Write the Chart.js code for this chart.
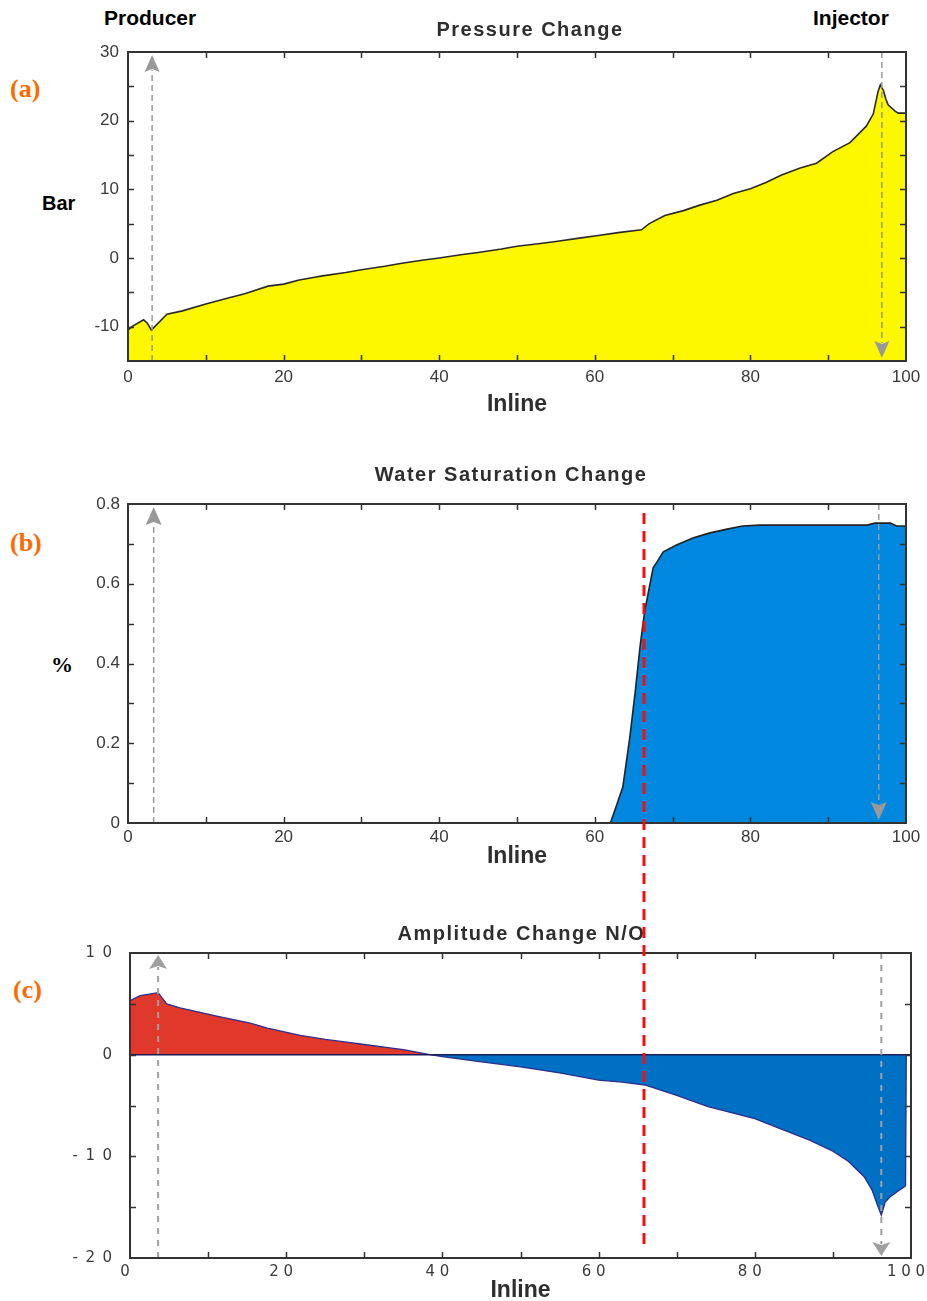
<!DOCTYPE html>
<html>
<head>
<meta charset="utf-8">
<script src="https://cdn.jsdelivr.net/npm/chart.js@4/dist/chart.umd.min.js"></script>
<style>
  html, body { margin: 0; padding: 0; background: #fff; }
  body { position: relative; width: 927px; height: 1301px; overflow: hidden; font-family: "Liberation Sans", Arial, sans-serif; }
  canvas.chart { position: absolute; left: 0; }
  #overlay { position: absolute; left: 0; top: 0; pointer-events: none; z-index: 5; }
  .lbl { position: absolute; white-space: nowrap; transform: translateY(-50%); line-height: 1; }
  .well { font: bold 21px "Liberation Sans", Arial, sans-serif; color: #000; }
  .panel { font: bold 26px "Liberation Serif", "Times New Roman", serif; color: #ff6a00; }
  .unit { font: bold 20px "Liberation Sans", Arial, sans-serif; color: #000; }
  .unit.pct { font: bold 22px "Liberation Serif", "Times New Roman", serif; }
</style>
</head>
<body>
<div class="lbl well" style="left:104px;top:18px">Producer</div>
<div class="lbl well" style="left:813px;top:18px">Injector</div>
<div class="lbl panel" style="left:10px;top:89px">(a)</div>
<div class="lbl panel" style="left:10px;top:543px">(b)</div>
<div class="lbl panel" style="left:13px;top:990px">(c)</div>
<div class="lbl unit" style="left:42px;top:203px">Bar</div>
<div class="lbl unit pct" style="left:51px;top:665px">%</div>

<canvas id="chartPressure" class="chart" style="top:0px" width="927" height="420"></canvas>
<canvas id="chartSaturation" class="chart" style="top:440px" width="927" height="432"></canvas>
<canvas id="chartAmplitude" class="chart" style="top:880px" width="927" height="426"></canvas>
<canvas id="overlay" width="927" height="1301"></canvas>

<script>
// ---- Pressure change along the inline (bar) ----
const pressureInline = [0, 0.5, 2, 2.5, 3, 5, 7, 10, 13, 15, 18, 20, 22, 24, 25, 28, 30, 33, 35, 38, 40, 43, 45, 48, 50, 53, 55, 58, 60, 63, 66, 67, 69, 71.4, 73.5, 75.7, 77.8, 80, 82, 84, 86.4, 88.5, 90.6, 92.8, 94.9, 95.8, 96.4, 96.7, 97.1, 97.4, 97.7, 98.6, 99, 100];
const pressureBar    = [-10.5, -10.0, -9.0, -9.5, -10.5, -8.2, -7.7, -6.7, -5.8, -5.2, -4.1, -3.8, -3.2, -2.8, -2.6, -2.1, -1.7, -1.2, -0.8, -0.3, 0.0, 0.5, 0.8, 1.3, 1.7, 2.1, 2.4, 2.9, 3.2, 3.7, 4.1, 5.0, 6.2, 6.9, 7.7, 8.4, 9.4, 10.1, 11.0, 12.1, 13.1, 13.8, 15.5, 16.8, 19.2, 21.0, 24.2, 25.2, 24.4, 23.2, 22.3, 21.4, 21.1, 21.1];

// ---- Water saturation change along the inline ----
const saturationInline = [0, 10, 20, 30, 40, 50, 60, 62, 62.6, 63.6, 64.5, 65.2, 65.8, 66.4, 66.9, 67.5, 68, 68.8, 70.5, 72.6, 74.7, 77, 79, 81.2, 85, 90, 95, 96, 97, 98, 98.8, 100];
const saturationValue  = [0, 0, 0, 0, 0, 0, 0, 0, 0.033, 0.09, 0.215, 0.33, 0.44, 0.53, 0.58, 0.64, 0.655, 0.68, 0.697, 0.715, 0.727, 0.737, 0.745, 0.747, 0.747, 0.747, 0.747, 0.752, 0.752, 0.752, 0.745, 0.745];

// ---- Amplitude change N/O along the inline ----
const amplitudeInline = [0, 1.3, 3.6, 4.7, 6.4, 11.1, 15.4, 17.6, 21.8, 25, 28, 30, 33, 35, 38.4, 40, 45, 50, 55, 60, 63, 66, 70, 74, 78, 80, 83, 87, 90, 92, 94, 95, 95.7, 96.2, 96.7, 97.3, 98, 99.3, 99.4];
const amplitudeValue  = [5.3, 5.8, 6.1, 5.0, 4.6, 3.8, 3.1, 2.6, 1.9, 1.5, 1.2, 1.0, 0.7, 0.5, 0.0, -0.2, -0.7, -1.2, -1.8, -2.5, -2.7, -3.0, -4.0, -5.1, -5.9, -6.3, -7.2, -8.4, -9.5, -10.5, -12.0, -13.3, -14.8, -15.8, -14.5, -14.0, -13.6, -12.9, 0];

// Tick values that carry a printed label (the rest are minor ticks)
const inlineTickLabels     = [0, 20, 40, 60, 80, 100];
const pressureTickLabels   = [-10, 0, 10, 20, 30];
const saturationTickLabels = [0, 0.2, 0.4, 0.6, 0.8];
const amplitudeTickLabels  = [-20, -10, 0, 10];

// Well positions on the inline (producer near the start, injector near the end)
const pressureWells   = [3.1, 96.9];
const saturationWells = [3.3, 96.5];
const amplitudeWells  = [3.6, 96.2];

// Water front position marked across the saturation and amplitude panels
const waterFrontInline = 66.3;

const hasLabel = (list, v) => list.some(l => Math.abs(l - v) < 1e-6);
const points = (xs, ys) => xs.map((x, i) => ({ x, y: ys[i] }));

// Frame, inward ticks, well arrows and panel title drawn on top of the data
const framePlugin = {
  id: 'frame',
  afterDatasetsDraw(chart, args, opts) {
    const { ctx, chartArea: a } = chart;
    const xs = chart.scales.x, ys = chart.scales.y;
    ctx.save();

    if (opts.zeroLine) {
      const y0 = ys.getPixelForValue(0);
      ctx.strokeStyle = opts.zeroLine;
      ctx.lineWidth = 1.5;
      ctx.beginPath(); ctx.moveTo(a.left, y0); ctx.lineTo(a.right, y0); ctx.stroke();
    }

    // well markers: producer arrow points up, injector arrow points down
    const w = opts.wells;
    (w.positions || []).forEach((v, i) => {
      const px = xs.getPixelForValue(v);
      const up = i === 0;
      const tip = up ? a.top + w.gap : a.bottom - w.gap;
      const base = up ? tip + w.head : tip - w.head;
      ctx.strokeStyle = w.color;
      ctx.lineWidth = w.width;
      ctx.setLineDash(w.dash);
      ctx.beginPath();
      if (up) { ctx.moveTo(px, a.bottom); ctx.lineTo(px, base - 2); }
      else { ctx.moveTo(px, a.top); ctx.lineTo(px, base + 2); }
      ctx.stroke();
      ctx.setLineDash([]);
      ctx.fillStyle = w.color;
      const hw = w.headWidth / 2;
      const notch = up ? base - 3 : base + 3;
      ctx.beginPath();
      ctx.moveTo(px, tip);
      ctx.lineTo(px + hw, base);
      ctx.lineTo(px, notch);
      ctx.lineTo(px - hw, base);
      ctx.closePath();
      ctx.fill();
    });

    // inward tick marks on all four sides
    ctx.strokeStyle = '#333';
    ctx.lineWidth = 1.5;
    const tl = 6;
    ctx.beginPath();
    xs.ticks.forEach(t => {
      const p = Math.round(xs.getPixelForValue(t.value)) + 0.5;
      if (p <= a.left + 1 || p >= a.right - 1) return;
      ctx.moveTo(p, a.bottom); ctx.lineTo(p, a.bottom - tl);
      ctx.moveTo(p, a.top); ctx.lineTo(p, a.top + tl);
    });
    ys.ticks.forEach(t => {
      const p = Math.round(ys.getPixelForValue(t.value)) + 0.5;
      if (p <= a.top + 1 || p >= a.bottom - 1) return;
      ctx.moveTo(a.left, p); ctx.lineTo(a.left + tl, p);
      ctx.moveTo(a.right, p); ctx.lineTo(a.right - tl, p);
    });
    ctx.stroke();

    // plot frame
    ctx.lineWidth = 2;
    ctx.strokeStyle = '#333';
    ctx.strokeRect(a.left, a.top, a.right - a.left, a.bottom - a.top);

    // panel title
    ctx.fillStyle = '#2e2e2e';
    ctx.font = 'bold 20px "Liberation Sans", Arial, sans-serif';
    if ('letterSpacing' in ctx) ctx.letterSpacing = '1.5px';
    ctx.textAlign = 'center';
    ctx.textBaseline = 'middle';
    ctx.fillText(opts.title, (a.left + a.right) / 2 + opts.titleDx, a.top - opts.titleDy);
    ctx.restore();
  }
};

const tickFont = { family: '"Liberation Sans", Arial, sans-serif', size: 17 };
const tickFontSmall = { family: '"DejaVu Sans", Verdana, sans-serif', size: 15 };
const axisTitleFont = { family: '"Liberation Sans", Arial, sans-serif', size: 23, weight: 'bold', lineHeight: 1.2 };
const spacedWide = v => String(v).split('').join('\u2002');
const spaced = v => String(v).split('').join(' ');

function makeChart(id, cfg) {
  return new Chart(document.getElementById(id), {
    type: 'line',
    data: { datasets: [cfg.dataset] },
    options: {
      responsive: false,
      animation: false,
      devicePixelRatio: 1,
      layout: { padding: cfg.padding },
      elements: { point: { radius: 0 }, line: { tension: 0 } },
      plugins: {
        legend: { display: false },
        tooltip: { enabled: false },
        title: { display: false },
        frame: cfg.frame
      },
      scales: {
        x: {
          type: 'linear', min: 0, max: 100,
          grid: { display: false, drawTicks: false }, border: { display: false },
          ticks: {
            stepSize: 10, autoSkip: false, maxRotation: 0, padding: cfg.xTickPad,
            labelOffset: cfg.xLabelOffset || 0,
            color: '#3a3a3a', font: cfg.tickFont,
            callback: v => hasLabel(inlineTickLabels, v) ? cfg.xFmt(v) : ''
          },
          title: { display: true, text: 'Inline', color: '#2e2e2e', font: axisTitleFont, padding: { top: 0, bottom: 0 } },
          afterFit(s) { s.height = cfg.xHeight; s.paddingLeft = 0; s.paddingRight = 0; }
        },
        y: {
          min: cfg.yMin, max: cfg.yMax,
          grid: { display: false, drawTicks: false }, border: { display: false },
          ticks: {
            stepSize: cfg.yStep, autoSkip: false, padding: cfg.yTickPad,
            color: '#3a3a3a', font: cfg.tickFont,
            callback: v => hasLabel(cfg.yLabels, v) ? cfg.yFmt(v) : ''
          },
          afterFit(s) { s.width = cfg.yWidth; s.paddingTop = 0; s.paddingBottom = 0; }
        }
      }
    },
    plugins: [framePlugin]
  });
}

const chartPressure = makeChart('chartPressure', {
  dataset: {
    data: points(pressureInline, pressureBar),
    borderColor: '#2a2a2a', borderWidth: 1.6,
    backgroundColor: '#fdf700', fill: 'start'
  },
  padding: { top: 52, right: 21, bottom: 2, left: 0 },
  xHeight: 57, yWidth: 128, xTickPad: 6, yTickPad: 9,
  yMin: -15, yMax: 30, yStep: 5, yLabels: pressureTickLabels,
  tickFont, xFmt: v => String(v), yFmt: v => String(v),
  frame: {
    title: 'Pressure Change', titleDx: 13, titleDy: 22,
    wells: { positions: pressureWells, color: '#999', width: 1.5, dash: [6, 4], gap: 3, head: 17, headWidth: 15 }
  }
});

const chartSaturation = makeChart('chartSaturation', {
  dataset: {
    data: points(saturationInline, saturationValue),
    borderColor: '#222', borderWidth: 1.6,
    segment: { borderColor: c => (c.p0.parsed.y === 0 && c.p1.parsed.y === 0) ? '#5a55a8' : '#222' },
    backgroundColor: '#0088e0', fill: 'origin'
  },
  padding: { top: 64, right: 21, bottom: 2, left: 0 },
  xHeight: 47, yWidth: 128, xTickPad: 4, yTickPad: 8,
  yMin: 0, yMax: 0.8, yStep: 0.1, yLabels: saturationTickLabels,
  tickFont, xFmt: v => String(v), yFmt: v => v === 0 ? '0' : v.toFixed(1),
  frame: {
    title: 'Water Saturation Change', titleDx: -6, titleDy: 29,
    wells: { positions: saturationWells, color: '#999', width: 1.5, dash: [6, 4], gap: 3, head: 18, headWidth: 16 }
  }
});

const chartAmplitude = makeChart('chartAmplitude', {
  dataset: {
    data: points(amplitudeInline, amplitudeValue),
    borderColor: '#2d2d8a', borderWidth: 1.3,
    fill: { target: 'origin', above: '#e0392b', below: '#0070c4' }
  },
  padding: { top: 73, right: 16, bottom: 2, left: 0 },
  xHeight: 46, yWidth: 130, xTickPad: 5, xLabelOffset: -5, yTickPad: 18,
  yMin: -20, yMax: 10, yStep: 5, yLabels: amplitudeTickLabels,
  tickFont: tickFontSmall, xFmt: spaced, yFmt: spacedWide,
  frame: {
    title: 'Amplitude Change N/O', titleDx: 1, titleDy: 19, zeroLine: '#1d1d5a',
    wells: { positions: amplitudeWells, color: '#a0a0a0', width: 2, dash: [6, 6], gap: 2, head: 14, headWidth: 18 }
  }
});

// Red dashed water-front line spanning panels (b) and (c)
(function drawFront() {
  const ov = document.getElementById('overlay');
  const ctx = ov.getContext('2d');
  const topB = parseFloat(document.getElementById('chartSaturation').style.top);
  const topC = parseFloat(document.getElementById('chartAmplitude').style.top);
  const x = Math.round(chartSaturation.scales.x.getPixelForValue(waterFrontInline));
  const y1 = topB + chartSaturation.chartArea.top + 9;
  const y2 = topC + chartAmplitude.chartArea.bottom - 8;
  ctx.strokeStyle = '#f01010';
  ctx.lineWidth = 3;
  ctx.setLineDash([11, 7]);
  ctx.beginPath();
  ctx.moveTo(x, y1);
  ctx.lineTo(x, y2);
  ctx.stroke();
})();
</script>
</body>
</html>
